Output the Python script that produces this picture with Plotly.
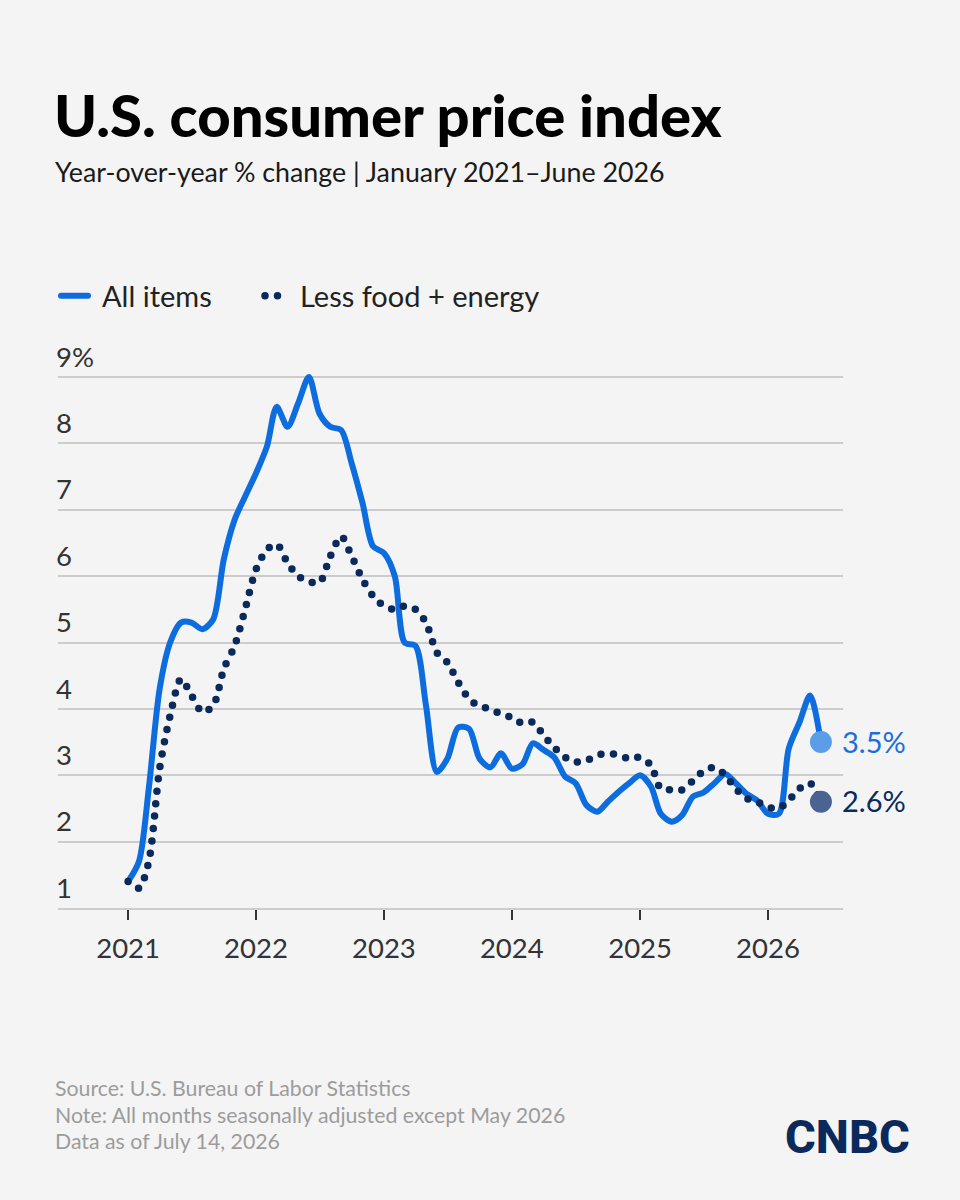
import pandas as pd
import plotly.graph_objects as go

# ---- data ----
months = pd.date_range("2021-01-01", periods=66, freq="MS")
all_items = [
    1.4, 1.7, 2.8, 4.3, 5.0, 5.3, 5.3, 5.2, 5.35, 6.25, 6.85, 7.2,
    7.55, 7.95, 8.55, 8.25, 8.6, 9.0, 8.45, 8.25, 8.2, 7.7, 7.1, 6.45,
    6.35, 6.0, 5.0, 4.95, 4.05, 3.05, 3.25, 3.72, 3.7, 3.25, 3.12, 3.33,
    3.1, 3.17, 3.48, 3.38, 3.27, 2.98, 2.88, 2.55, 2.45, 2.6, 2.75, 2.88,
    3.0, 2.83, 2.42, 2.3, 2.4, 2.68, 2.74, 2.88, 3.02, 2.88, 2.72, 2.62,
    2.42, 2.42, 3.4, 3.8, 4.2, 3.5,
]
core = [
    1.4, 1.3, 1.7, 3.1, 3.9, 4.45, 4.2, 3.95, 4.05, 4.6, 4.95, 5.5,
    6.1, 6.4, 6.48, 6.2, 6.0, 5.92, 5.9, 6.3, 6.6, 6.3, 5.95, 5.7,
    5.55, 5.5, 5.55, 5.5, 5.3, 4.85, 4.7, 4.4, 4.15, 4.04, 4.0, 3.92,
    3.87, 3.78, 3.8, 3.6, 3.42, 3.27, 3.2, 3.22, 3.3, 3.33, 3.3, 3.25,
    3.27, 3.15, 2.8, 2.78, 2.78, 2.92, 3.06, 3.12, 3.0, 2.8, 2.65, 2.6,
    2.52, 2.5, 2.62, 2.8, 2.88, 2.6,
]
series_names = ["All items", "Less food + energy"]
y_ticks = [1, 2, 3, 4, 5, 6, 7, 8, 9]
y_ticktext = ["1", "2", "3", "4", "5", "6", "7", "8", "9%"]
x_years = ["2021", "2022", "2023", "2024", "2025", "2026"]
end_labels = ["3.5%", "2.6%"]

title = "U.S. consumer price index"
subtitle = "Year-over-year % change | January 2021\u2013June 2026"
footer = ["Source: U.S. Bureau of Labor Statistics",
          "Note: All months seasonally adjusted except May 2026",
          "Data as of July 14, 2026"]

# ---- style / layout geometry (pixels) ----
BG = "#f4f4f4"
BLUE = "#0d6ddf"
NAVY = "#0b2a5c"
FONT = "Lato"
W, H = 960, 1200
PL, PR, PT, PB = 58, 843, 320, 908
PW, PH = PR - PL, PB - PT


def px(x):
    return (x - PL) / PW


def py(y):
    return (PB - y) / PH


fig = go.Figure()
fig.add_trace(go.Scatter(
    x=months, y=all_items, name=series_names[0], mode="lines", legend="legend",
    line=dict(color=BLUE, width=6, shape="spline", smoothing=0.8),
))
fig.add_trace(go.Scatter(
    x=months, y=core, name=series_names[1], mode="lines", legend="legend2",
    line=dict(color=NAVY, width=7.5, shape="spline", smoothing=0.8, dash="0px,12.5px"),
))
fig.add_trace(go.Scatter(
    x=[months[-1]], y=[all_items[-1]], mode="markers", showlegend=False,
    marker=dict(size=22, color="#5b9de9"), cliponaxis=False,
))
fig.add_trace(go.Scatter(
    x=[months[-1]], y=[core[-1]], mode="markers", showlegend=False,
    marker=dict(size=22, color="#4a6390"), cliponaxis=False,
))

annotations = []
for val, lab, col in [(all_items[-1], end_labels[0], "#1a6fdb"), (core[-1], end_labels[1], NAVY)]:
    annotations.append(dict(
        text=lab, x=months[-1], y=val, xref="x", yref="y",
        xanchor="left", yanchor="middle", xshift=19, yshift=1, showarrow=False,
        font=dict(size=29, color=col, family=FONT),
    ))
for i, t in enumerate(footer):
    annotations.append(dict(
        text=t, xref="paper", yref="paper", x=px(53),
        y=py(1088 + i * 26.5), xanchor="left", yanchor="middle",
        showarrow=False, font=dict(size=21.3, color="#9c9c9c", family=FONT),
    ))
annotations.append(dict(
    text="CNBC", xref="paper", yref="paper", x=px(912),
    y=py(1136), xanchor="right", yanchor="middle", showarrow=False,
    font=dict(size=47, color=NAVY, family="Liberation Sans Narrow, Roboto", weight=800),
))
annotations.append(dict(
    text=subtitle, xref="paper", yref="paper", x=px(53),
    y=py(172), xanchor="left", yanchor="middle", showarrow=False,
    font=dict(size=26.8, color="#1a1a1a", family=FONT),
))

legend_common = dict(orientation="h", xref="container", yref="container",
                     y=1 - 296 / H, xanchor="left", yanchor="middle",
                     font=dict(size=29, color="#222222", family=FONT),
                     bgcolor="rgba(0,0,0,0)")

fig.update_layout(
    width=W, height=H,
    paper_bgcolor=BG, plot_bgcolor=BG,
    margin=dict(l=PL, r=W - PR, t=PT, b=H - PB, autoexpand=False),
    title=dict(text=title, x=54 / W, xref="container", xanchor="left",
               y=1 - 117 / H, yref="container", yanchor="middle",
               font=dict(size=58, color="#000000", family=FONT, weight=900)),
    font=dict(family=FONT, color="#333333"),
    showlegend=True,
    legend=dict(x=56 / W, itemwidth=36, **legend_common),
    legend2=dict(x=260 / W, itemwidth=30, **legend_common),
    annotations=annotations,
    xaxis=dict(
        type="date", range=["2020-06-15", "2026-08-03"],
        tickvals=[f"{y}-01-01" for y in x_years], ticktext=x_years,
        showgrid=False, zeroline=False,
        showline=True, linecolor="#cccccc", linewidth=2,
        ticks="outside", ticklen=10, tickwidth=2, tickcolor="#333333",
        tickfont=dict(size=27.5, color="#333333", family=FONT),
        ticklabelstandoff=5,
    ),
    yaxis=dict(
        range=[1, 1 + 8 * PH / (PB - 377)], tickvals=y_ticks, ticktext=y_ticktext,
        showgrid=True, gridcolor="#cccccc", gridwidth=2, zeroline=False,
        showline=False, ticks="",
        ticklabelposition="inside", ticklabelshift=-20, ticklabelstandoff=-5,
        tickfont=dict(size=27.5, color="#333333", family=FONT),
    ),
)

post = """
var gd = document.getElementById('{plot_id}');
gd.querySelectorAll('path.js-line, .legendlines path, .scatterlayer path').forEach(function(p){
  p.style.strokeLinecap = 'round'; p.style.strokeLinejoin = 'round';
});
var lp1 = gd.querySelector('g.legend .legendlines path');
if (lp1) { lp1.setAttribute('d', 'M5,0h27'); }
var lp = gd.querySelector('g.legend2 .legendlines path');
if (lp) { lp.setAttribute('d', 'M5,0h13'); }
"""
fig.write_html("out.html", post_script=post)
